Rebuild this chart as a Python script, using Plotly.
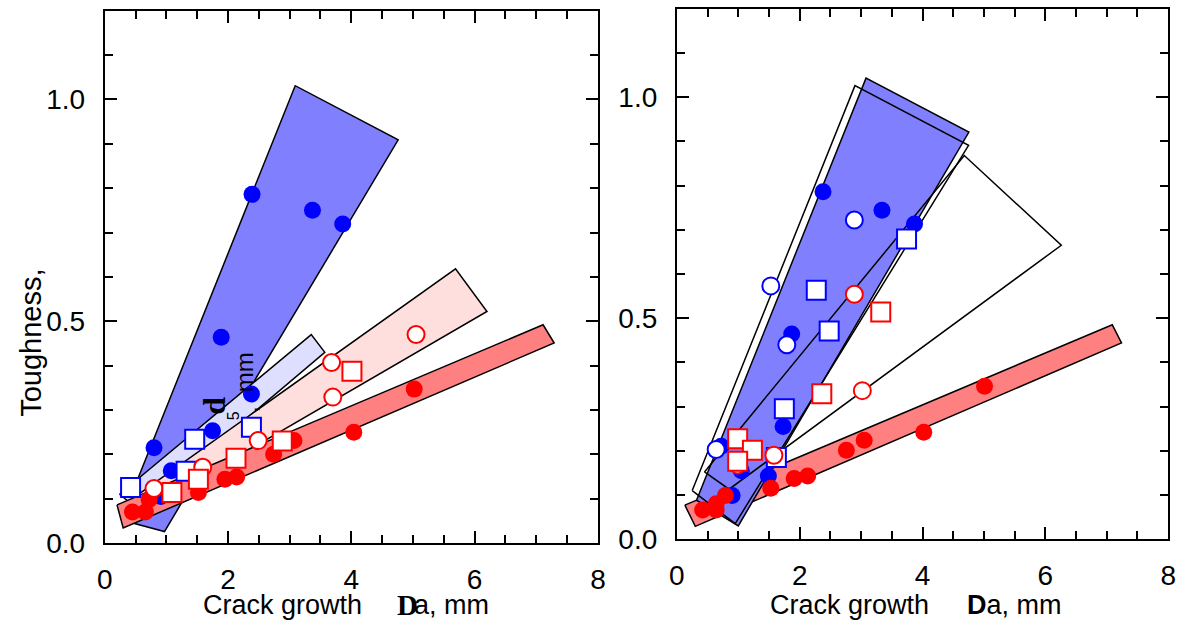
import plotly.graph_objects as go

# ---------------- data ----------------
# Left panel bands (polygon corners, data units)
left_blue_band_x = [0.27, 3.09, 4.76, 0.97]
left_blue_band_y = [0.052, 1.031, 0.909, 0.026]
left_lav_band_x = [0.24, 3.35, 3.57, 0.55]
left_lav_band_y = [0.11, 0.47, 0.43, 0.075]
left_pink_band_x = [0.45, 5.69, 6.20, 0.60]
left_pink_band_y = [0.10, 0.618, 0.522, 0.07]
left_red_band_x = [0.20, 7.11, 7.29, 0.30]
left_red_band_y = [0.086, 0.492, 0.451, 0.034]

# Left panel points
lb_fill_x = [2.39, 3.37, 3.86, 1.89, 2.38, 1.75, 0.80, 1.08, 0.91]
lb_fill_y = [0.786, 0.750, 0.719, 0.464, 0.336, 0.253, 0.215, 0.163, 0.105]
lb_sq_x = [0.42, 1.46, 1.32, 2.38]
lb_sq_y = [0.125, 0.234, 0.162, 0.261]
lr_circ_x = [5.05, 3.68, 3.70, 2.49, 1.59, 0.80]
lr_circ_y = [0.470, 0.407, 0.329, 0.231, 0.171, 0.123]
lr_sq_x = [4.01, 2.88, 2.13, 1.52, 1.09]
lr_sq_y = [0.387, 0.230, 0.191, 0.144, 0.114]
lr_fill_x = [5.02, 4.04, 3.07, 2.74, 2.14, 1.95, 1.52, 0.72, 0.66, 0.45]
lr_fill_y = [0.347, 0.250, 0.231, 0.200, 0.149, 0.144, 0.114, 0.098, 0.070, 0.070]

# Right panel bands
right_blue_band_x = [0.32, 3.08, 4.755, 1.00]
right_blue_band_y = [0.088, 1.043, 0.921, 0.030]
right_outline1_x = [0.25, 2.90, 4.75, 0.95]
right_outline1_y = [0.110, 1.026, 0.891, 0.035]
right_outline2_x = [0.45, 4.68, 6.26, 0.85]
right_outline2_y = [0.152, 0.868, 0.665, 0.113]
right_red_band_x = [0.13, 7.09, 7.24, 0.30]
right_red_band_y = [0.077, 0.485, 0.444, 0.029]

# Right panel points
rb_fill_x = [2.38, 3.34, 3.87, 1.87, 1.73, 1.49, 1.05, 0.90, 0.72]
rb_fill_y = [0.786, 0.744, 0.713, 0.464, 0.255, 0.143, 0.155, 0.099, 0.210]
rb_circ_x = [2.89, 1.53, 1.79, 0.64]
rb_circ_y = [0.722, 0.573, 0.440, 0.203]
rb_sq_x = [3.74, 2.27, 2.48, 1.75, 1.62]
rb_sq_y = [0.679, 0.563, 0.471, 0.295, 0.185]
rr_circ_x = [2.89, 3.02, 1.58, 0.99]
rr_circ_y = [0.554, 0.336, 0.190, 0.168]
rr_sq_x = [3.32, 2.36, 0.99, 1.23, 0.99]
rr_sq_y = [0.514, 0.329, 0.227, 0.201, 0.176]
rr_fill_x = [5.01, 4.02, 3.05, 2.76, 2.13, 1.91, 1.53, 0.79, 0.64, 0.64, 0.42]
rr_fill_y = [0.346, 0.242, 0.224, 0.201, 0.143, 0.137, 0.115, 0.099, 0.080, 0.066, 0.066]

x_ticks = [0, 2, 4, 6, 8]
y_ticks = [0.0, 0.5, 1.0]
y_tick_text = ["0.0", "0.5", "1.0"]

# ---------------- figure ----------------
W, H = 1188, 639
BLUE, RED = "#0000ff", "#ff0000"
FONT = "Liberation Sans, Arial, sans-serif"
SERIF = "Liberation Serif, Times New Roman, serif"

fig = go.Figure()


def band(x, y, fill, xa, ya, lw=1.5):
    fig.add_trace(go.Scatter(
        x=x + x[:1], y=y + y[:1], mode="lines", fill="toself",
        fillcolor=fill, line=dict(color="black", width=lw),
        xaxis=xa, yaxis=ya, hoverinfo="skip", showlegend=False))


def pts(x, y, symbol, size, fill, edge, xa, ya, lw=2):
    fig.add_trace(go.Scatter(
        x=x, y=y, mode="markers", xaxis=xa, yaxis=ya, showlegend=False,
        marker=dict(symbol=symbol, size=size, color=fill,
                    line=dict(color=edge, width=lw))))


# left panel
band(left_blue_band_x, left_blue_band_y, "#8080ff", "x", "y")
band(left_lav_band_x, left_lav_band_y, "#dedeff", "x", "y")
band(left_pink_band_x, left_pink_band_y, "#ffdede", "x", "y")
band(left_red_band_x, left_red_band_y, "#ff8080", "x", "y")
pts(lb_fill_x, lb_fill_y, "circle", 17, BLUE, BLUE, "x", "y", 0)
pts(lr_fill_x, lr_fill_y, "circle", 17, RED, RED, "x", "y", 0)
pts(lb_sq_x, lb_sq_y, "square", 19, "white", BLUE, "x", "y")
pts(lr_circ_x, lr_circ_y, "circle", 17, "white", RED, "x", "y")
pts(lr_sq_x, lr_sq_y, "square", 19, "white", RED, "x", "y")

# right panel
band(right_red_band_x, right_red_band_y, "#ff8080", "x2", "y2")
band(right_blue_band_x, right_blue_band_y, "#8080ff", "x2", "y2")
band(right_outline1_x, right_outline1_y, "rgba(0,0,0,0)", "x2", "y2")
band(right_outline2_x, right_outline2_y, "rgba(0,0,0,0)", "x2", "y2")
pts(rb_fill_x, rb_fill_y, "circle", 17, BLUE, BLUE, "x2", "y2", 0)
pts(rr_fill_x, rr_fill_y, "circle", 17, RED, RED, "x2", "y2", 0)
pts(rb_circ_x, rb_circ_y, "circle", 17, "white", BLUE, "x2", "y2")
pts(rb_sq_x, rb_sq_y, "square", 19, "white", BLUE, "x2", "y2")
pts(rr_circ_x, rr_circ_y, "circle", 17, "white", RED, "x2", "y2")
pts(rr_sq_x, rr_sq_y, "square", 19, "white", RED, "x2", "y2")


def xaxis(domain, anchor):
    return dict(domain=domain, anchor=anchor, range=[0, 8], tickmode="array",
                tickvals=x_ticks, ticks="inside", ticklen=12, tickwidth=2,
                tickcolor="black", showline=True, linecolor="black", linewidth=2,
                mirror="ticks", showgrid=False, zeroline=False,
                tickfont=dict(family=FONT, size=28, color="black"),
                ticklabelstandoff=10,
                minor=dict(tick0=0, dtick=0.5, ticks="inside", ticklen=8,
                           tickwidth=1.5, tickcolor="black", showgrid=False))


def yaxis(domain, anchor):
    return dict(domain=domain, anchor=anchor, range=[0, 1.2], tickmode="array",
                tickvals=y_ticks, ticktext=y_tick_text, ticks="inside",
                ticklen=12, tickwidth=2, tickcolor="black", showline=True,
                linecolor="black", linewidth=2, mirror="ticks", showgrid=False,
                zeroline=False, tickfont=dict(family=FONT, size=28, color="black"),
                ticklabelstandoff=12,
                minor=dict(tick0=0, dtick=0.1, ticks="inside", ticklen=8,
                           tickwidth=1.5, tickcolor="black", showgrid=False))


fig.update_layout(
    width=W, height=H, margin=dict(l=0, r=0, t=0, b=0),
    paper_bgcolor="white", plot_bgcolor="white",
    xaxis=xaxis([98 / W, 598 / W], "y"),
    yaxis=yaxis([1 - 557 / H, 1 - 11 / H], "x"),
    xaxis2=xaxis([678 / W, 1176 / W], "y2"),
    yaxis2=yaxis([1 - 553 / H, 1 - 9 / H], "x2"),
    font=dict(family=FONT, color="black"),
)


def ann(text, px, py, size, xanchor="center", yanchor="middle", angle=0, family=FONT):
    fig.add_annotation(text=text, x=px / W, y=1 - py / H, xref="paper", yref="paper",
                       showarrow=False, xanchor=xanchor, yanchor=yanchor,
                       textangle=angle, font=dict(family=family, size=size, color="black"))


ann("Toughness,", 24, 352, 29, angle=-90)
ann("Crack growth", 278, 621, 27)
ann("<b>D</b>", 392, 621, 29, xanchor="left", family=SERIF)
ann("a, mm", 410, 621, 27, xanchor="left")
ann("Crack growth", 853, 621, 27)
ann("<b>D</b>a, mm", 970, 621, 27, xanchor="left")
# misplaced symbol part of the y title inside the left panel
ann("<b>d</b>", 208, 416, 32, angle=-90, family=SERIF)
ann("5", 228, 426, 16, angle=-90)
ann(",", 246, 420, 20, angle=-90)
ann("mm", 240, 382, 24, angle=-90)

fig.write_html("out.html", config={"displayModeBar": False},
               post_script="document.body.style.margin='0';")
